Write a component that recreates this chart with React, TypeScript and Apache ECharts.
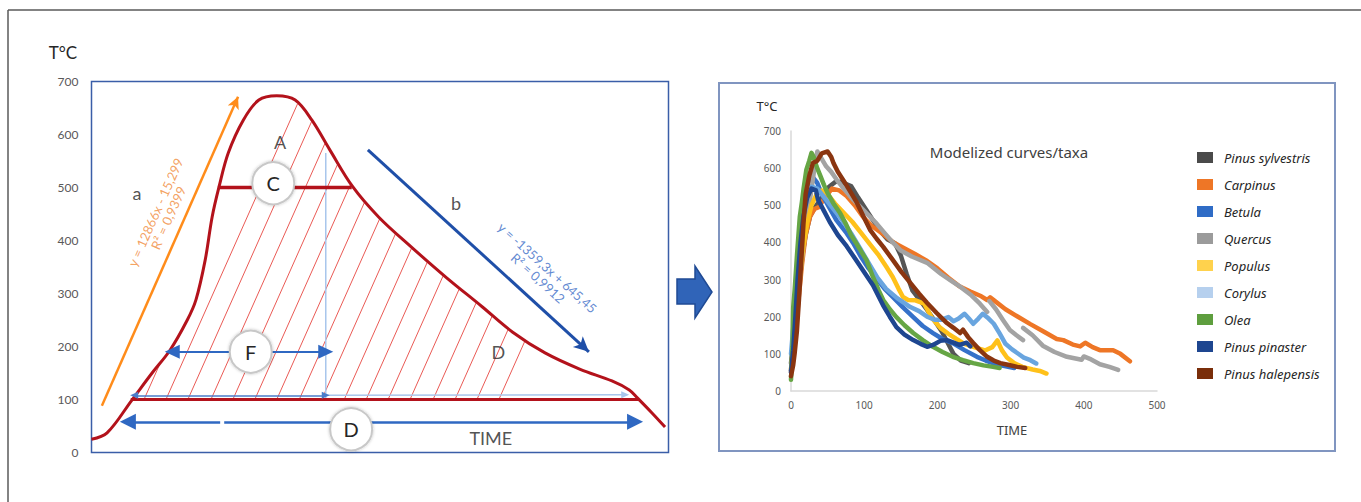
import React, { useEffect, useRef } from "react";
import * as echarts from "echarts";

// ---------- Left schematic panel ----------
const schemaYTicks = [0, 100, 200, 300, 400, 500, 600, 700];
const schemaCurve: [number, number][] = [
  [0, 25], [2.7, 37], [7.0, 99], [10.5, 150], [13.6, 193], [16.6, 250], [18.1, 288],
  [19.7, 363], [20.9, 444], [22.1, 501], [23.7, 565], [26.3, 627], [29.0, 665],
  [32.1, 673], [35.3, 665], [38.2, 627], [41.3, 571], [45.3, 501], [49.8, 444],
  [55.4, 388], [61.4, 331], [67.7, 275], [73.0, 227], [78.6, 188], [84.7, 157],
  [90.2, 135], [93.2, 118], [94.6, 103], [97.1, 75], [99.4, 48],
];
const hatchStarts = [9.1, 12.9, 16.7, 20.7, 24.5, 28.3, 32.1, 36.0, 39.9, 43.8, 47.6, 51.4, 55.2, 59.2, 63.0, 66.8, 70.6];
const baseLine: [number, number][] = [[6.8, 100], [94.9, 100]];
const cLine: [number, number][] = [[21.9, 500], [45.1, 500]];
const vLine: [number, number][] = [[40.6, 100], [40.6, 565]];
const fArrow: [number, number][] = [[14.0, 190], [40.6, 190]];
const dArrowLeft: [number, number][] = [[6.3, 58], [22.3, 58]];
const dArrowRight: [number, number][] = [[23.0, 58], [94.2, 58]];
const thinArrowDark: [number, number][] = [[7.4, 108], [40.6, 108]];
const thinArrowLight: [number, number][] = [[40.6, 108], [92.5, 109]];
const orangeArrow: [number, number][] = [[1.8, 88], [25.4, 671]];
const blueArrow: [number, number][] = [[47.9, 571], [86.2, 190]];
const circleLabels = [
  { name: "C", value: [31.5, 508] },
  { name: "F", value: [27.6, 190] },
  { name: "D", value: [45.0, 44] },
];
const plainLabels = [
  { name: "A", value: [32.7, 586] },
  { name: "a", value: [7.9, 490] },
  { name: "b", value: [63.2, 471] },
  { name: "D", value: [70.5, 190] },
  { name: "TIME", value: [69.2, 27] },
];
const orangeEq = { name: "y = 12866x - 15,299\nR² = 0,9399", value: [12.2, 448] };
const blueEq = { name: "y = -1359,3x + 645,45\nR² = 0,9912", value: [78.2, 339] };

// ---------- Right chart panel ----------
const xTicks = [0, 100, 200, 300, 400, 500];
const yTicks = [0, 100, 200, 300, 400, 500, 600, 700];
const taxa = [
  "Pinus sylvestris", "Carpinus", "Betula", "Quercus", "Populus",
  "Corylus", "Olea", "Pinus pinaster", "Pinus halepensis",
];

const pinusSylvestris: number[][][] = [[
  [0, 75], [4, 150], [8, 230], [12, 300], [16, 370], [20, 420], [26, 470], [33, 495], [42, 520],
  [52, 550], [62, 565], [72, 560], [82, 552], [92, 520], [102, 490], [112, 460], [122, 430],
  [132, 408], [142, 398], [150, 365], [158, 315], [166, 270], [176, 245], [186, 218], [196, 190],
  [206, 160], [214, 130], [222, 100], [232, 82], [243, 75],
]];
const carpinus: number[][][] = [[
  [0, 55], [5, 130], [10, 240], [15, 340], [20, 420], [26, 470], [32, 490], [38, 495], [46, 520],
  [56, 545], [66, 540], [76, 525], [87, 500], [98, 470], [110, 445], [126, 422], [140, 400],
  [154, 385], [170, 368], [186, 350], [200, 330], [215, 305], [230, 282], [245, 268], [260, 255],
  [268, 245], [272, 252], [280, 240], [293, 220], [310, 200], [327, 180], [345, 160], [363, 140],
  [372, 137], [385, 125], [395, 120], [402, 130], [412, 118], [422, 110], [440, 110], [450, 100], [463, 80],
]];
const betula: number[][][] = [[
  [0, 55], [3, 120], [6, 240], [10, 370], [14, 460], [18, 520], [24, 560], [30, 575], [36, 560],
  [42, 530], [52, 495], [62, 460], [76, 425], [86, 395], [96, 360], [106, 330], [116, 305],
  [128, 275], [139, 253], [153, 225], [167, 199], [180, 175], [194, 156], [207, 140], [221, 129],
  [237, 110], [254, 92], [266, 82], [276, 75], [290, 68], [305, 62],
]];
const quercus: number[][][] = [
  [
    [0, 50], [4, 130], [8, 220], [12, 300], [17, 390], [22, 460], [27, 530], [32, 600], [36, 645],
    [42, 625], [48, 605], [55, 590], [62, 570], [72, 545], [85, 515], [100, 485], [115, 455],
    [128, 425], [139, 400], [150, 378], [165, 362], [186, 345], [205, 315], [220, 295], [231, 281],
    [245, 260], [258, 235], [268, 213],
  ],
  [[271, 242], [280, 220], [290, 190], [299, 164], [308, 150], [317, 137]],
  [[317, 170], [330, 150], [344, 122], [360, 105], [377, 92], [397, 84], [400, 93], [410, 85], [422, 72], [435, 65], [447, 57]],
];
const populus: number[][][] = [[
  [0, 60], [4, 130], [8, 210], [12, 300], [16, 380], [22, 450], [28, 500], [35, 530], [42, 540],
  [50, 530], [60, 505], [72, 480], [84, 455], [96, 425], [108, 395], [120, 365], [130, 335],
  [139, 307], [147, 275], [153, 253], [160, 245], [170, 244], [182, 235], [193, 195], [204, 170],
  [215, 154], [226, 140], [237, 127], [250, 118], [265, 109], [275, 118], [282, 136], [288, 110],
  [295, 90], [305, 75], [316, 65], [330, 58], [340, 54], [349, 47],
]];
const corylus: number[][][] = [[
  [0, 100], [3, 170], [6, 260], [10, 350], [14, 430], [18, 490], [23, 530], [28, 550], [36, 545],
  [46, 520], [58, 490], [70, 460], [82, 425], [94, 385], [106, 345], [118, 305], [130, 275],
  [145, 250], [163, 226], [175, 215], [186, 200], [196, 192], [206, 192], [215, 199], [222, 188],
  [229, 195], [237, 208], [243, 195], [249, 181], [256, 195], [262, 208], [270, 195], [277, 181],
  [285, 155], [293, 127], [302, 112], [310, 101], [318, 90], [327, 83], [335, 74],
]];
const olea: number[][][] = [[
  [0, 30], [2, 120], [3, 225], [5, 272], [7, 330], [8, 361], [10, 415], [12, 469], [15, 510],
  [17, 542], [21, 596], [25, 620], [28, 641], [31, 630], [35, 604], [40, 580], [45, 555], [50, 533],
  [58, 505], [67, 479], [75, 450], [82, 420], [90, 395], [96, 375], [103, 353], [112, 307],
  [120, 270], [126, 245], [135, 220], [144, 199], [155, 177], [167, 156], [180, 137], [194, 119],
  [207, 105], [221, 92], [235, 83], [249, 75], [263, 69], [276, 65], [285, 62],
]];
const pinusPinaster: number[][][] = [[
  [0, 50], [3, 110], [6, 200], [9, 300], [13, 400], [17, 470], [22, 520], [28, 545], [34, 540],
  [37, 515], [45, 485], [53, 455], [64, 420], [76, 390], [87, 358], [98, 326], [112, 285],
  [126, 230], [135, 200], [144, 172], [155, 152], [167, 137], [177, 127], [186, 119], [194, 124],
  [204, 135], [213, 137], [222, 130], [230, 124], [240, 130], [245, 120],
]];
const pinusHalepensis: number[][][] = [[
  [0, 40], [3, 70], [5, 102], [8, 160], [11, 250], [14, 350], [17, 450], [20, 530], [25, 580],
  [30, 614], [36, 620], [42, 640], [50, 645], [55, 630], [58, 614], [64, 590], [71, 569], [80, 540],
  [90, 507], [99, 470], [108, 434], [117, 410], [126, 388], [139, 353], [151, 320], [163, 291],
  [175, 262], [186, 237], [199, 210], [213, 183], [222, 170], [231, 156], [235, 165], [242, 145],
  [249, 129], [258, 110], [268, 92], [277, 82], [286, 75], [298, 70], [309, 65], [320, 62],
]];

const taxaData = [pinusSylvestris, carpinus, betula, quercus, populus, corylus, olea, pinusPinaster, pinusHalepensis];
const lineColors = ["#555555", "#ee7626", "#3571c9", "#a3a3a3", "#ffc11a", "#69a5df", "#66a645", "#1e4690", "#8a3510"];
const legendColors = ["#4a4a4a", "#ee7626", "#2f6cc6", "#9b9b9b", "#ffd24d", "#b6d0ee", "#5e9e3e", "#1e4690", "#7a2e0a"];

const LEFT_FONT = "Lato, 'Liberation Sans', sans-serif";
const RIGHT_FONT = "'Noto Sans', 'DejaVu Sans', sans-serif";

function arrowSeries(coords: [number, number][], color: string, width: number, symbols: string[], size: any) {
  return {
    type: "line",
    xAxisIndex: 0,
    yAxisIndex: 0,
    data: [],
    silent: true,
    markLine: {
      silent: true,
      animation: false,
      symbol: symbols,
      symbolSize: size,
      label: { show: false },
      lineStyle: { color, width, type: "solid" },
      itemStyle: { color },
      emphasis: { disabled: true },
      data: [[{ coord: coords[0] }, { coord: coords[1] }]],
    },
  };
}

export default function App() {
  const ref = useRef<HTMLDivElement>(null);
  useEffect(() => {
    document.body.style.margin = "0";
    if (!ref.current) return;
    const chart = echarts.init(ref.current, null, { renderer: "svg" });

    const rightSeries: any[] = [];
    taxa.forEach((name, i) => {
      taxaData[i].forEach((seg) => {
        rightSeries.push({
          type: "line",
          name,
          xAxisIndex: 1,
          yAxisIndex: 1,
          data: seg,
          symbol: "none",
          showSymbol: false,
          lineStyle: { width: 4.5, color: lineColors[i], cap: "round", join: "round" },
          itemStyle: { color: legendColors[i] },
          z: 3 + i * 0.1,
        });
      });
    });

    const option: any = {
      animation: false,
      grid: [
        { left: 91.5, top: 81.5, width: 577, height: 371, show: true, borderColor: "#3a5ea8", borderWidth: 1.5, backgroundColor: "transparent" },
        { left: 791, top: 131, width: 366, height: 260 },
      ],
      xAxis: [
        { gridIndex: 0, type: "value", min: 0, max: 100, show: false },
        {
          gridIndex: 1, type: "value", min: 0, max: 500, interval: 100,
          axisLine: { show: true, lineStyle: { color: "#d9d9d9", width: 1.5 } },
          axisTick: { show: false }, splitLine: { show: false },
          axisLabel: { color: "#595959", fontSize: 10, margin: 9, fontFamily: RIGHT_FONT,
            formatter: (v: number) => (xTicks.includes(v) ? String(v) : "") },
        },
      ],
      yAxis: [
        {
          gridIndex: 0, type: "value", min: 0, max: 700, interval: 100,
          axisLine: { show: false }, axisTick: { show: false }, splitLine: { show: false },
          axisLabel: { color: "#595959", fontSize: 12, margin: 13, fontFamily: LEFT_FONT,
            formatter: (v: number) => (schemaYTicks.includes(v) ? String(v) : "") },
        },
        {
          gridIndex: 1, type: "value", min: 0, max: 700, interval: 100,
          axisLine: { show: true, lineStyle: { color: "#d9d9d9", width: 1.5 } },
          axisTick: { show: false }, splitLine: { show: false },
          axisLabel: { color: "#595959", fontSize: 10, margin: 10, fontFamily: RIGHT_FONT,
            formatter: (v: number) => (yTicks.includes(v) ? String(v) : "") },
        },
      ],
      legend: {
        orient: "vertical",
        left: 1192,
        top: 146,
        itemWidth: 16,
        itemHeight: 11,
        itemGap: 14,
        icon: "rect",
        selectedMode: false,
        data: taxa,
        textStyle: { fontStyle: "italic", fontSize: 13, color: "#262626", fontFamily: RIGHT_FONT, padding: [0, 0, 0, 6] },
      },
      graphic: [
        { type: "line", shape: { x1: 8, y1: 10, x2: 1361, y2: 10 }, style: { stroke: "#5a5a5a", lineWidth: 1.5 } },
        { type: "line", shape: { x1: 8, y1: 10, x2: 8, y2: 502 }, style: { stroke: "#5a5a5a", lineWidth: 1.5 } },
        { type: "rect", shape: { x: 719, y: 83, width: 616, height: 368 }, style: { fill: "none", stroke: "#8095c0", lineWidth: 2 } },
        {
          type: "polygon",
          shape: { points: [[677, 279], [695, 279], [695, 266], [712, 292], [695, 318], [695, 304], [677, 304]] },
          style: { fill: "#3064b8", stroke: "#1f4a94", lineWidth: 1.5 },
        },
        { type: "text", x: 63, y: 52, style: { text: "T°C", font: `17px ${LEFT_FONT}`, fill: "#262626", textAlign: "center", textVerticalAlign: "middle" } },
        { type: "text", x: 767, y: 106, style: { text: "T°C", font: `13px ${RIGHT_FONT}`, fill: "#262626", textAlign: "center", textVerticalAlign: "middle" } },
        { type: "text", x: 1012, y: 430, style: { text: "TIME", font: `13px ${RIGHT_FONT}`, fill: "#404040", textAlign: "center", textVerticalAlign: "middle" } },
        { type: "text", x: 1009, y: 152, style: { text: "Modelized curves/taxa", font: `15px ${RIGHT_FONT}`, fill: "#404040", textAlign: "center", textVerticalAlign: "middle" } },
      ],
      series: [
        // hatching
        {
          type: "custom",
          xAxisIndex: 0,
          yAxisIndex: 0,
          silent: true,
          data: hatchStarts.map((x) => [x, 100]),
          z: 1,
          renderItem: (params: any, api: any) => {
            const start = api.coord([api.value(0), api.value(1)]);
            const pts = schemaCurve.map((p) => api.coord(p));
            const interp = (cx: number) => {
              for (let i = 0; i < pts.length - 1; i++) {
                if (cx >= pts[i][0] && cx <= pts[i + 1][0]) {
                  const t = (cx - pts[i][0]) / (pts[i + 1][0] - pts[i][0]);
                  return pts[i][1] + t * (pts[i + 1][1] - pts[i][1]);
                }
              }
              return pts[pts.length - 1][1];
            };
            const ang = (66 * Math.PI) / 180;
            const dx = Math.cos(ang);
            const dy = -Math.sin(ang);
            let ex = start[0];
            let ey = start[1];
            for (let t = 0; t < 500; t += 0.5) {
              const cx = start[0] + dx * t;
              const cy = start[1] + dy * t;
              if (cy < interp(cx) + 1) break;
              ex = cx;
              ey = cy;
            }
            return {
              type: "line",
              shape: { x1: start[0], y1: start[1], x2: ex, y2: ey },
              style: { stroke: "#ea5a55", lineWidth: 1 },
            };
          },
        },
        // vertical light blue
        { type: "line", xAxisIndex: 0, yAxisIndex: 0, data: vLine, symbol: "none", lineStyle: { color: "#a8c6ec", width: 1.5 }, z: 2, silent: true },
        arrowSeries(thinArrowLight, "#a8c6ec", 1.5, ["none", "triangle"], [7, 8]),
        arrowSeries(thinArrowDark, "#4a7cc9", 1.5, ["triangle", "triangle"], [7, 8]),
        // red baseline, C line, curve
        { type: "line", xAxisIndex: 0, yAxisIndex: 0, data: baseLine, symbol: "none", lineStyle: { color: "#b3121b", width: 3 }, z: 4, silent: true },
        { type: "line", xAxisIndex: 0, yAxisIndex: 0, data: cLine, symbol: "none", lineStyle: { color: "#b3121b", width: 3.5 }, z: 4, silent: true },
        { type: "line", xAxisIndex: 0, yAxisIndex: 0, data: schemaCurve, smooth: 0.35, symbol: "none", lineStyle: { color: "#b3121b", width: 3 }, z: 4, silent: true },
        arrowSeries(fArrow, "#2f68c2", 2, ["triangle", "triangle"], [14, 15]),
        arrowSeries(dArrowLeft, "#2f68c2", 2.5, ["triangle", "none"], [16, 16]),
        arrowSeries(dArrowRight, "#2f68c2", 2.5, ["none", "triangle"], [16, 16]),
        arrowSeries(orangeArrow, "#ff8c1a", 2.5, ["none", "arrow"], [9, 12]),
        arrowSeries(blueArrow, "#1f4fa8", 3, ["none", "arrow"], [11, 15]),
        // circles
        {
          type: "scatter", xAxisIndex: 0, yAxisIndex: 0, data: circleLabels, symbolSize: 42, z: 6, silent: true,
          itemStyle: { color: "#ffffff", borderColor: "#c8c8c8", borderWidth: 2, shadowBlur: 3, shadowColor: "rgba(0,0,0,0.25)", opacity: 1 },
          label: { show: true, position: "inside", formatter: (p: any) => p.name, fontSize: 20, color: "#262626", fontFamily: LEFT_FONT },
        },
        // plain text labels
        {
          type: "scatter", xAxisIndex: 0, yAxisIndex: 0, data: plainLabels, symbolSize: 0, z: 6, silent: true,
          label: { show: true, position: "inside", formatter: (p: any) => p.name, fontSize: 18, color: "#262626", fontFamily: LEFT_FONT },
        },
        {
          type: "scatter", xAxisIndex: 0, yAxisIndex: 0, data: [orangeEq], symbolSize: 0, z: 6, silent: true,
          label: { show: true, position: "inside", rotate: 66, formatter: (p: any) => p.name, fontSize: 13, lineHeight: 14, align: "center", color: "#f08a3a", fontFamily: LEFT_FONT },
        },
        {
          type: "scatter", xAxisIndex: 0, yAxisIndex: 0, data: [blueEq], symbolSize: 0, z: 6, silent: true,
          label: { show: true, position: "inside", rotate: -42, formatter: (p: any) => p.name, fontSize: 13, lineHeight: 14, align: "center", color: "#3a6cc6", fontFamily: LEFT_FONT },
        },
        ...rightSeries,
      ],
    };
    chart.setOption(option);
    return () => chart.dispose();
  }, []);
  return <div ref={ref} style={{ width: 1361, height: 502 }} />;
}
